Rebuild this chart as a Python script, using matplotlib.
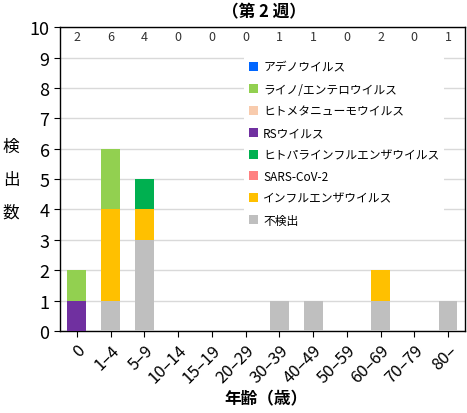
import matplotlib
matplotlib.use("Agg")
import matplotlib.pyplot as plt
import numpy as np

plt.rcParams['font.family'] = ['Noto Sans CJK JP', 'DejaVu Sans']

# ── data ────────────────────────────────────────────────────────────
ages = ["0", "1–4", "5–9", "10–14", "15–19", "20–29", "30–39",
        "40–49", "50–59", "60–69", "70–79", "80–"]

# count labels printed along the top (as shown in the source)
top_counts = [2, 6, 4, 0, 0, 0, 1, 1, 0, 2, 0, 1]

# bottom → top stacking order (reverse of legend)
not_detected = [0, 1, 3, 0, 0, 0, 1, 1, 0, 1, 0, 1]
influenza    = [0, 3, 1, 0, 0, 0, 0, 0, 0, 1, 0, 0]
sars_cov2    = [0, 0, 0, 0, 0, 0, 0, 0, 0, 0, 0, 0]
parainflu    = [0, 0, 1, 0, 0, 0, 0, 0, 0, 0, 0, 0]
rsv          = [1, 0, 0, 0, 0, 0, 0, 0, 0, 0, 0, 0]
hmpv         = [0, 0, 0, 0, 0, 0, 0, 0, 0, 0, 0, 0]
rhino_entero = [1, 2, 0, 0, 0, 0, 0, 0, 0, 0, 0, 0]
adeno        = [0, 0, 0, 0, 0, 0, 0, 0, 0, 0, 0, 0]

series = [
    ("アデノウイルス", adeno, "#0066FF"),
    ("ライノ/エンテロウイルス", rhino_entero, "#92D050"),
    ("ヒトメタニューモウイルス", hmpv, "#F8CBAD"),
    ("RSウイルス", rsv, "#7030A0"),
    ("ヒトパラインフルエンザウイルス", parainflu, "#00B050"),
    ("SARS-CoV-2", sars_cov2, "#FF8080"),
    ("インフルエンザウイルス", influenza, "#FFC000"),
    ("不検出", not_detected, "#BFBFBF"),
]

fig = plt.figure(figsize=(4.67, 4.14), dpi=100)
ax = fig.add_axes([0.1285, 0.198, 0.867, 0.734])

x = np.arange(len(ages))
bottom = np.zeros(len(ages))
handles = {}
for name, vals, color in reversed(series):
    vals = np.array(vals, dtype=float)
    h = ax.bar(x, vals, width=0.56, bottom=bottom, color=color, label=name, zorder=3)
    handles[name] = h
    bottom += vals

# counts along the top
for xi, c in zip(x, top_counts):
    ax.text(xi, 9.7, str(c), ha="center", va="center", fontsize=9, color="#333333")

ax.set_xlim(-0.5, len(ages) - 0.5)
ax.set_ylim(0, 10)
ax.set_yticks(range(0, 11))
ax.set_xticks(x)
ax.set_xticklabels(ages, rotation=45, ha="right", rotation_mode="anchor", fontsize=12)
ax.tick_params(axis="y", labelsize=13, length=4)
ax.tick_params(axis="x", length=4)
ax.grid(axis="y", color="#D9D9D9", linewidth=1, zorder=0)
for sp in ax.spines.values():
    sp.set_color("black")
    sp.set_linewidth(1)

leg = ax.legend([handles[n] for n, _, _ in series], [n for n, _, _ in series],
                loc="upper left", bbox_to_anchor=(0.455, 0.905),
                frameon=True, fontsize=8.5, handlelength=0.8, handleheight=0.8,
                handletextpad=0.4, labelspacing=0.75, borderaxespad=0)
leg.get_frame().set_facecolor("white")
leg.get_frame().set_edgecolor("none")
leg.get_frame().set_alpha(1)
leg.set_zorder(5)

fig.text(0.565, 0.97, "（第 2 週）", ha="center", va="center", fontsize=12, fontweight="bold")
fig.text(0.024, 0.565, "検\n出\n数", ha="center", va="center", fontsize=12, linespacing=2.2)
fig.text(0.57, 0.035, "年齢（歳）", ha="center", va="center", fontsize=12, fontweight="bold")

fig.savefig("out.png", dpi=100)
